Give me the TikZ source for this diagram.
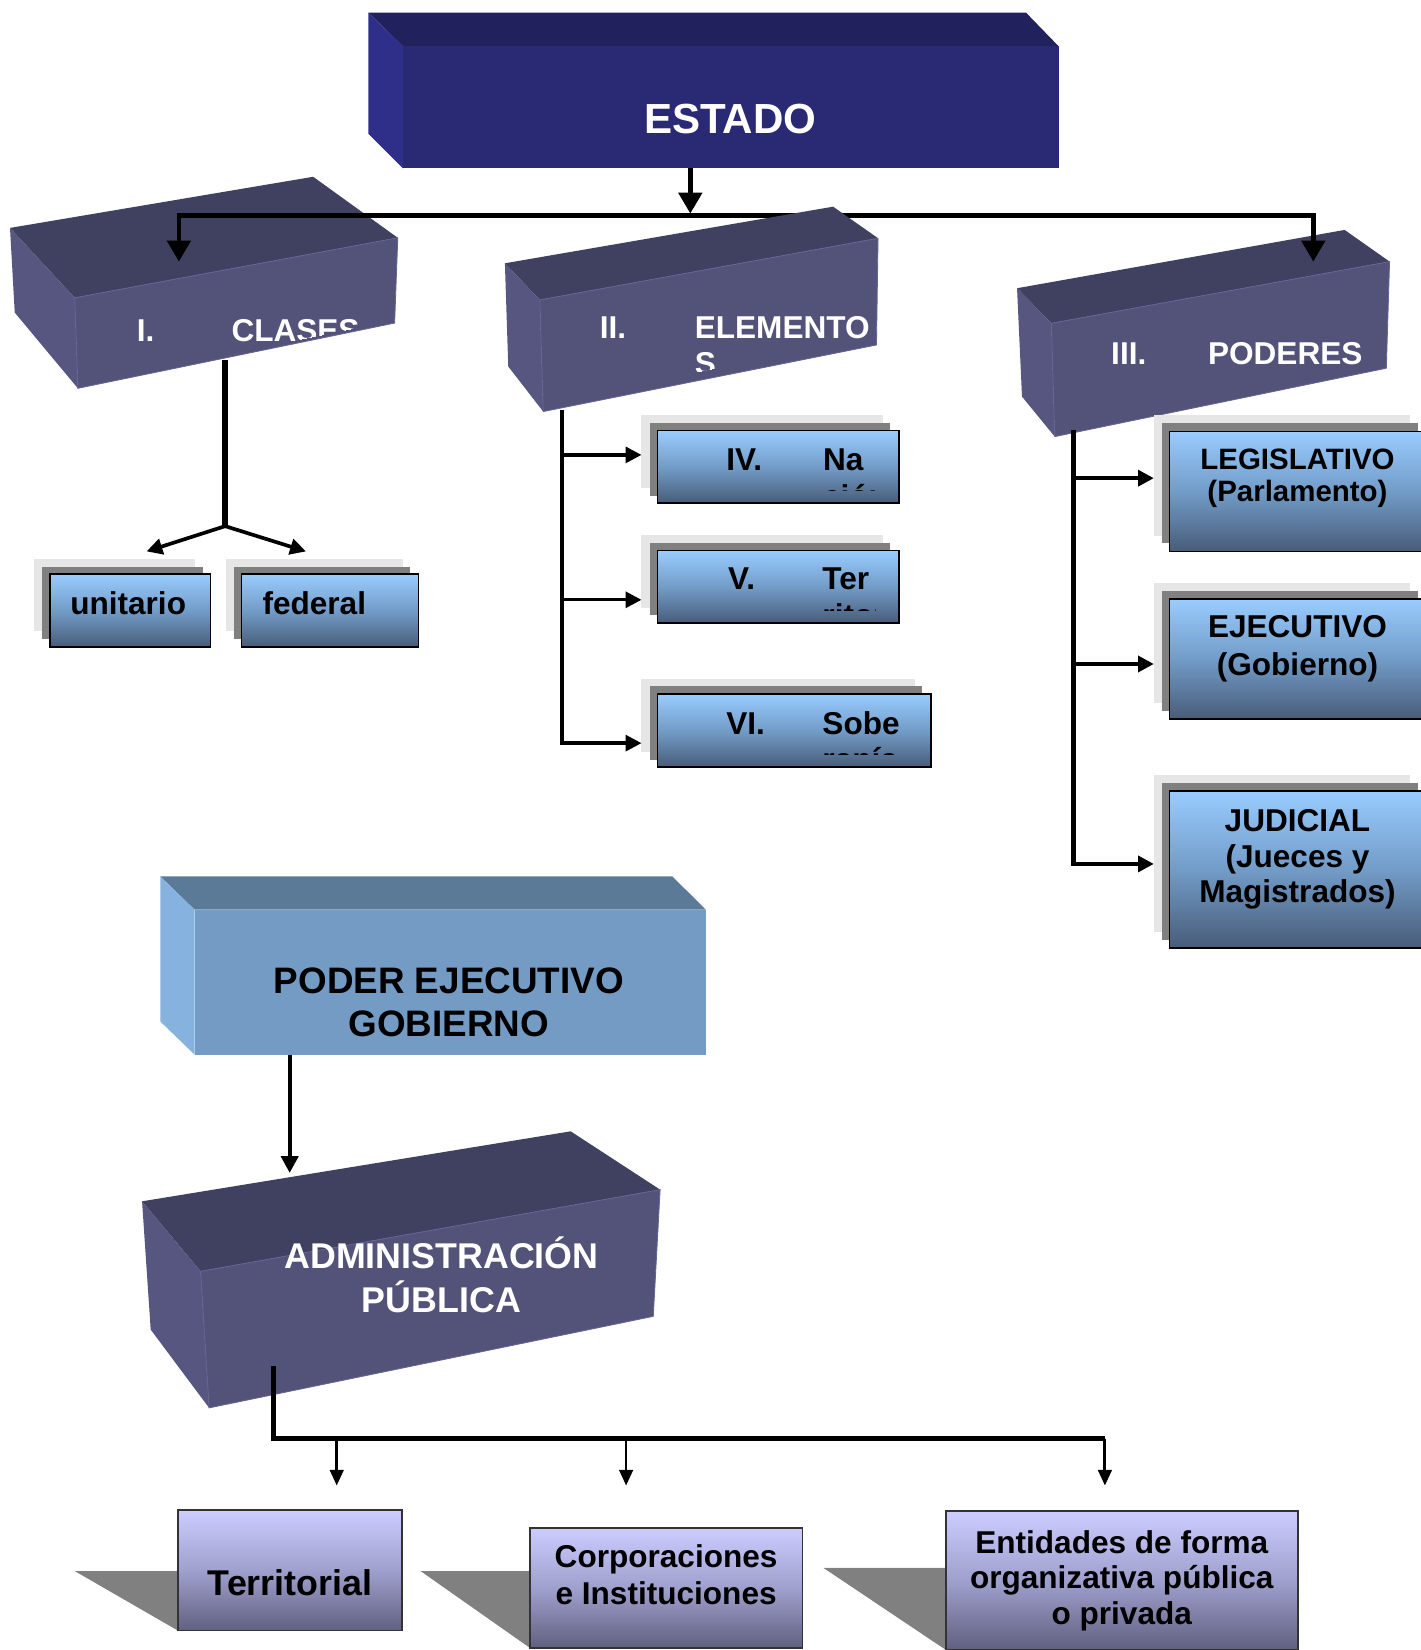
\documentclass[tikz,border=0pt]{standalone}
\usepackage{fontspec}
\setmainfont{Liberation Sans}
\usetikzlibrary{arrows.meta}

% block colours
\definecolor{estFront}{RGB}{41,41,116}
\definecolor{estTop}{RGB}{33,33,94}
\definecolor{estSide}{RGB}{47,47,137}
\definecolor{purFront}{RGB}{83,83,122}
\definecolor{purTop}{RGB}{64,64,96}
\definecolor{purSide}{RGB}{86,86,128}
\definecolor{purEdge}{RGB}{100,100,150}
\definecolor{pegFront}{RGB}{115,155,196}
\definecolor{pegTop}{RGB}{91,122,152}
\definecolor{pegSide}{RGB}{134,178,224}
% card colours
\definecolor{bluTop}{RGB}{153,204,255}
\definecolor{bluMid}{RGB}{114,156,200}
\definecolor{bluBot}{RGB}{72,92,120}
\definecolor{lavTop}{RGB}{204,204,255}
\definecolor{lavMid}{RGB}{160,160,206}
\definecolor{lavBot}{RGB}{96,96,128}
\definecolor{paleGrey}{RGB}{230,230,230}
\definecolor{darkGrey}{RGB}{128,128,128}

\newcommand\txtsize[1]{\fontsize{#1}{#1}\selectfont\bfseries}

\tikzset{
  lbl/.style={inner sep=0pt, outer sep=0pt, anchor=base, font=\txtsize{#1}},
  lblw/.style={lbl=#1, anchor=base west},
  layer/.style={inner sep=0pt, outer sep=0pt, anchor=north west},
  palecard/.style={layer, fill=paleGrey},
  greycard/.style={layer, fill=darkGrey},
  bluecard/.style={layer, draw=black, line width=1.6pt,
    top color=bluTop, bottom color=bluBot, middle color=bluMid},
  lavcard/.style={layer, draw=black!80, line width=1.6pt,
    top color=lavTop, bottom color=lavBot, middle color=lavMid},
  wire/.style={line width=#1, line join=miter},
  tipbig/.style={-{Triangle[length=20pt,width=22pt]}},
  tipmid/.style={-{Triangle[length=15pt,width=15pt]}},
  tipsmall/.style={-{Triangle[length=15pt,width=13pt]}},
}

\begin{document}
\begin{tikzpicture}[x=1pt,y=-1pt]
\useasboundingbox (0,0) rectangle (1350,1568);
\fill[white] (0,0) rectangle (1350,1568);

% ---------- ESTADO ----------
\fill[estTop] (350,12) -- (975,12) -- (1006,44) -- (383,44) -- cycle;
\fill[estSide] (350,12) -- (383,44) -- (383,160) -- (350,127) -- cycle;
\node[layer, fill=estFront, minimum width=623pt, minimum height=116pt] (estado) at (383,44) {};
\node[lbl=40, white] (estadoT) at (694,126.7) {ESTADO};

% ---------- I. CLASES ----------
\coordinate (cBLT) at (9.5,216.6);
\coordinate (cBRT) at (297.6,168);
\coordinate (cFRT) at (378,226);
\coordinate (cFLT) at (71,283);
\coordinate (cFLB) at (74,369);
\coordinate (cBLB) at (14,297);
\coordinate (cFRB) at (375,307);
\fill[purTop] (cBLT) -- (cBRT) -- (cFRT) -- (cFLT) -- cycle;
\fill[purSide] (cBLT) -- (cFLT) -- (cFLB) -- (cBLB) -- cycle;
\filldraw[fill=purFront, draw=purEdge, line width=0.8pt] (cFLT) -- (cFRT) -- (cFRB) -- (cFLB) -- cycle;
\begin{scope}
  \clip (71,283) -- (378,226) -- (375,304) -- (74,366) -- cycle;
  \node[lblw=30, white] (clasesN) at (130,324.6) {I.};
  \node[lblw=30, white] (clasesT) at (220,324.6) {CLASES};
\end{scope}

% ---------- III. PODERES ----------
\coordinate (pBLT) at (966.5,273.9);
\coordinate (pBRT) at (1277.8,218.5);
\coordinate (pFRT) at (1320.5,248.6);
\coordinate (pFLT) at (999.1,307.2);
\coordinate (pFLB) at (1002.3,414.9);
\coordinate (pBLB) at (971.2,376.9);
\coordinate (pFRB) at (1317.4,349.9);
\fill[purTop] (pBLT) -- (pBRT) -- (pFRT) -- (pFLT) -- cycle;
\fill[purSide] (pBLT) -- (pFLT) -- (pFLB) -- (pBLB) -- cycle;
\filldraw[fill=purFront, draw=purEdge, line width=0.8pt] (pFLT) -- (pFRT) -- (pFRB) -- (pFLB) -- cycle;
\node[lblw=30, white] (poderesN) at (1056,346.8) {III.};
\node[lblw=30, white] (poderesT) at (1148,346.8) {PODERES};

% ---------- connectors from ESTADO ----------
\coordinate (barM) at (656,203);
\coordinate (barW) at (170,205);
\coordinate (barE) at (1248,205);
\coordinate (clasesIn) at (170,248.6);
\coordinate (poderesIn) at (1248,248.6);
\draw[wire=4.5pt, tipbig] (estado.south -| barM) -- (barM);
\draw[wire=4.5pt, {Triangle[length=20pt,width=22pt]}-{Triangle[length=20pt,width=22pt]}]
  (clasesIn) -- (barW) -- (barE) -- (poderesIn);

% ---------- II. ELEMENTOS ----------
\coordinate (eBLT) at (479.8,250.2);
\coordinate (eBRT) at (791.7,196.4);
\coordinate (eFRT) at (834.4,226.4);
\coordinate (eFLT) at (513,285);
\coordinate (eFLB) at (516.2,391.1);
\coordinate (eBLB) at (483,348.3);
\coordinate (eFRB) at (832.9,327.8);
\fill[purTop] (eBLT) -- (eBRT) -- (eFRT) -- (eFLT) -- cycle;
\fill[purSide] (eBLT) -- (eFLT) -- (eFLB) -- (eBLB) -- cycle;
\filldraw[fill=purFront, draw=purEdge, line width=0.8pt] (eFLT) -- (eFRT) -- (eFRB) -- (eFLB) -- cycle;
\begin{scope}
  \clip (513,285) -- (834.4,226.4) -- (832.9,319.3) -- (516.2,382.6) -- cycle;
  \node[lblw=30, white] (elemN) at (570,321.4) {II.};
  \node[lblw=30, white] (elemT) at (660.3,321.4) {ELEMENTO};
  \node[lblw=30, white] (elemT2) at (660.3,356) {S};
\end{scope}

% ---------- unitario / federal ----------
\node[palecard, minimum width=153pt, minimum height=69pt] (unitA) at (32.3,531) {};
\node[greycard, minimum width=152.5pt, minimum height=69pt] (unitB) at (40,538.4) {};
\node[bluecard, minimum width=152.5pt, minimum height=69.4pt] (unit) at (47.5,545.6) {};
\node[lbl=30] (unitT) at (121.8,584.3) {unitario};
\node[palecard, minimum width=168.3pt, minimum height=69pt] (fedA) at (214.7,531) {};
\node[greycard, minimum width=167.7pt, minimum height=69pt] (fedB) at (222.3,538.4) {};
\node[bluecard, minimum width=168.2pt, minimum height=69.4pt] (fed) at (229.6,545.6) {};
\node[lblw=30] (fedT) at (249.5,584.3) {federal};

\coordinate (clasesOut) at (214,342);
\coordinate (clasesFork) at (214,500);
\coordinate (unitIn) at (139.3,524);
\coordinate (fedIn) at (290.7,524);
\draw[wire=6pt] (clasesOut) -- (clasesFork);
\draw[wire=3.5pt, tipmid] (clasesFork) -- (unitIn);
\draw[wire=3.5pt, tipmid] (clasesFork) -- (fedIn);

% ---------- IV / V / VI ----------
\node[palecard, minimum width=229.6pt, minimum height=69.6pt] (naA) at (609.6,394.3) {};
\node[greycard, minimum width=228.7pt, minimum height=69.6pt] (naB) at (617.5,401.6) {};
\node[bluecard, minimum width=229.2pt, minimum height=69pt] (na) at (624.8,409.2) {};
\begin{scope}
  \clip (624.8,409.2) rectangle (832,466.5);
  \node[lblw=30] (naN) at (690.3,447.5) {IV.};
  \node[lblw=30] (naT) at (782.2,447.5) {Na};
  \node[lblw=30] (naT2) at (782.2,482) {ción};
\end{scope}

\node[palecard, minimum width=229.6pt, minimum height=69.6pt] (teA) at (609.6,508.3) {};
\node[greycard, minimum width=228.7pt, minimum height=69pt] (teB) at (617.5,515.6) {};
\node[bluecard, minimum width=229.2pt, minimum height=69pt] (te) at (624.8,523.2) {};
\begin{scope}
  \clip (624.8,523.2) rectangle (832,580.5);
  \node[lblw=30] (teN) at (691.9,560.5) {V.};
  \node[lblw=30] (teT) at (781.6,560.5) {Ter};
  \node[lblw=30] (teT2) at (781.6,595) {ritorio};
\end{scope}

\node[palecard, minimum width=259.7pt, minimum height=69.6pt] (soA) at (609.6,645.4) {};
\node[greycard, minimum width=259pt, minimum height=70.4pt] (soB) at (617.5,652.2) {};
\node[bluecard, minimum width=259.7pt, minimum height=69.4pt] (so) at (624.8,659.6) {};
\begin{scope}
  \clip (624.8,659.6) rectangle (862,717);
  \node[lblw=30] (soN) at (690.3,697.6) {VI.};
  \node[lblw=30] (soT) at (781.6,697.6) {Sobe};
  \node[lblw=30] (soT2) at (781.6,732) {ranía};
\end{scope}

\coordinate (elemOut) at (534,390);
\coordinate (e1) at (534,432.3);
\coordinate (e2) at (534,570);
\coordinate (e3) at (534,706.2);
\draw[wire=3.5pt] (elemOut) -- (e3);
\draw[wire=3.2pt, tipmid] (e1) -- (naA.west |- e1);
\draw[wire=3.2pt, tipmid] (e2) -- (teA.west |- e2);
\draw[wire=3.2pt, tipmid] ([xshift=-1.75pt]e3) -- (soA.west |- e3);

% ---------- powers ----------
\node[palecard, minimum width=243.5pt, minimum height=114.7pt] (legA) at (1096.5,394.3) {};
\node[greycard, minimum width=243.4pt, minimum height=114.4pt] (legB) at (1104,402) {};
\node[bluecard, minimum width=243.5pt, minimum height=114.2pt] (leg) at (1111.5,410) {};
\node[lbl=28] (legT1) at (1233,446.1) {LEGISLATIVO};
\node[lbl=28] (legT2) at (1233,477) {(Parlamento)};

\node[palecard, minimum width=243.5pt, minimum height=114.3pt] (ejeA) at (1096.5,553.7) {};
\node[greycard, minimum width=243.4pt, minimum height=114.3pt] (ejeB) at (1104,561.5) {};
\node[bluecard, minimum width=243.5pt, minimum height=114pt] (eje) at (1111.5,569) {};
\node[lbl=30] (ejeT1) at (1233,606) {EJECUTIVO};
\node[lbl=30] (ejeT2) at (1233,642) {(Gobierno)};

\node[palecard, minimum width=243.5pt, minimum height=149.2pt] (judA) at (1096.5,736.3) {};
\node[greycard, minimum width=243.4pt, minimum height=149.2pt] (judB) at (1104,744) {};
\node[bluecard, minimum width=243.5pt, minimum height=149.3pt] (jud) at (1111.5,751.5) {};
\node[lbl=30] (judT1) at (1233,790) {JUDICIAL};
\node[lbl=30] (judT2) at (1233,824.5) {(Jueces y};
\node[lbl=30] (judT3) at (1233,857.5) {Magistrados)};

\coordinate (podOut) at (1020.3,409);
\coordinate (r1) at (1020.3,454.4);
\coordinate (r2) at (1020.3,631);
\coordinate (r3) at (1020.3,821);
\draw[wire=4.4pt] (podOut) -- ([yshift=1.9pt]r3);
\draw[wire=3.8pt, tipmid] (r1) -- (legA.west |- r1);
\draw[wire=3.8pt, tipmid] (r2) -- (ejeA.west |- r2);
\draw[wire=3.8pt, tipmid] ([xshift=-2.2pt]r3) -- (judA.west |- r3);

% ---------- PODER EJECUTIVO / GOBIERNO ----------
\fill[pegTop] (152.3,832.9) -- (639,832.9) -- (670.7,864.5) -- (185,864.5) -- cycle;
\fill[pegSide] (152.3,832.9) -- (185,864.5) -- (185,1002.3) -- (152.3,970.6) -- cycle;
\node[layer, fill=pegFront, minimum width=485.7pt, minimum height=137.8pt] (gob) at (185,864.5) {};
\node[lbl=35] (gobT1) at (426.5,943.7) {PODER EJECUTIVO};
\node[lbl=35] (gobT2) at (426.5,984.9) {GOBIERNO};

% ---------- ADMINISTRACION PUBLICA ----------
\coordinate (aBLT) at (135,1141.6);
\coordinate (aBRT) at (542.3,1075.1);
\coordinate (aFRT) at (627.3,1130.5);
\coordinate (aFLT) at (190.6,1208.1);
\coordinate (aFLB) at (198.7,1337.9);
\coordinate (aBLB) at (143.2,1263.5);
\coordinate (aFRB) at (620.8,1250.9);
\fill[purTop] (aBLT) -- (aBRT) -- (aFRT) -- (aFLT) -- cycle;
\fill[purSide] (aBLT) -- (aFLT) -- (aFLB) -- (aBLB) -- cycle;
\filldraw[fill=purFront, draw=purEdge, line width=0.8pt] (aFLT) -- (aFRT) -- (aFRB) -- (aFLB) -- cycle;
\node[lbl=34, white] (admT1) at (419.5,1205) {ADMINISTRACIÓN};
\node[lbl=34, white] (admT2) at (419.5,1247) {PÚBLICA};

\coordinate (admIn) at (275.3,1114.7);
\draw[wire=4pt, -{Triangle[length=16pt,width=16pt]}] (gob.south -| admIn) -- (admIn);

% ---------- lower cards ----------
\fill[darkGrey] (71.1,1493) -- (300,1493) -- (300,1549.5) -- (169,1549.5) -- cycle;
\node[lavcard, minimum width=213.2pt, minimum height=114.3pt] (terr) at (169,1435.2) {};
\node[lbl=34] (terrT) at (275.6,1516.3) {Territorial};

\fill[darkGrey] (399.7,1493) -- (600,1493) -- (600,1566) -- (503.6,1566) -- cycle;
\node[lavcard, minimum width=259.1pt, minimum height=114pt] (corp) at (503.6,1452) {};
\node[lbl=30] (corpT1) at (633,1489.5) {Corporaciones};
\node[lbl=30] (corpT2) at (633,1524.5) {e Instituciones};

\fill[darkGrey] (782.6,1490) -- (1000,1490) -- (1000,1568) -- (899,1568) -- cycle;
\node[lavcard, minimum width=334.1pt, minimum height=131.4pt] (ent) at (899.2,1436.1) {};
\node[lbl=30] (entT1) at (1066,1476) {Entidades de forma};
\node[lbl=30] (entT2) at (1066,1510) {organizativa pública};
\node[lbl=30] (entT3) at (1066,1544) {o privada};

\coordinate (admOut) at (260,1298);
\coordinate (busW) at (260,1367);
\coordinate (b1) at (320,1367);
\coordinate (b2) at (595,1367);
\coordinate (b3) at (1050,1367);
\coordinate (terrIn) at (320,1411.7);
\coordinate (corpIn) at (595,1411.7);
\coordinate (entIn) at (1050,1411.7);
\draw[wire=5pt] (admOut) -- (busW) -- (b3);
\draw[wire=2.5pt, tipsmall] (b1) -- (terrIn);
\draw[wire=2.5pt, tipsmall] (b2) -- (corpIn);
\draw[wire=2.8pt, tipsmall] (b3) -- (entIn);
\end{tikzpicture}
\end{document}
